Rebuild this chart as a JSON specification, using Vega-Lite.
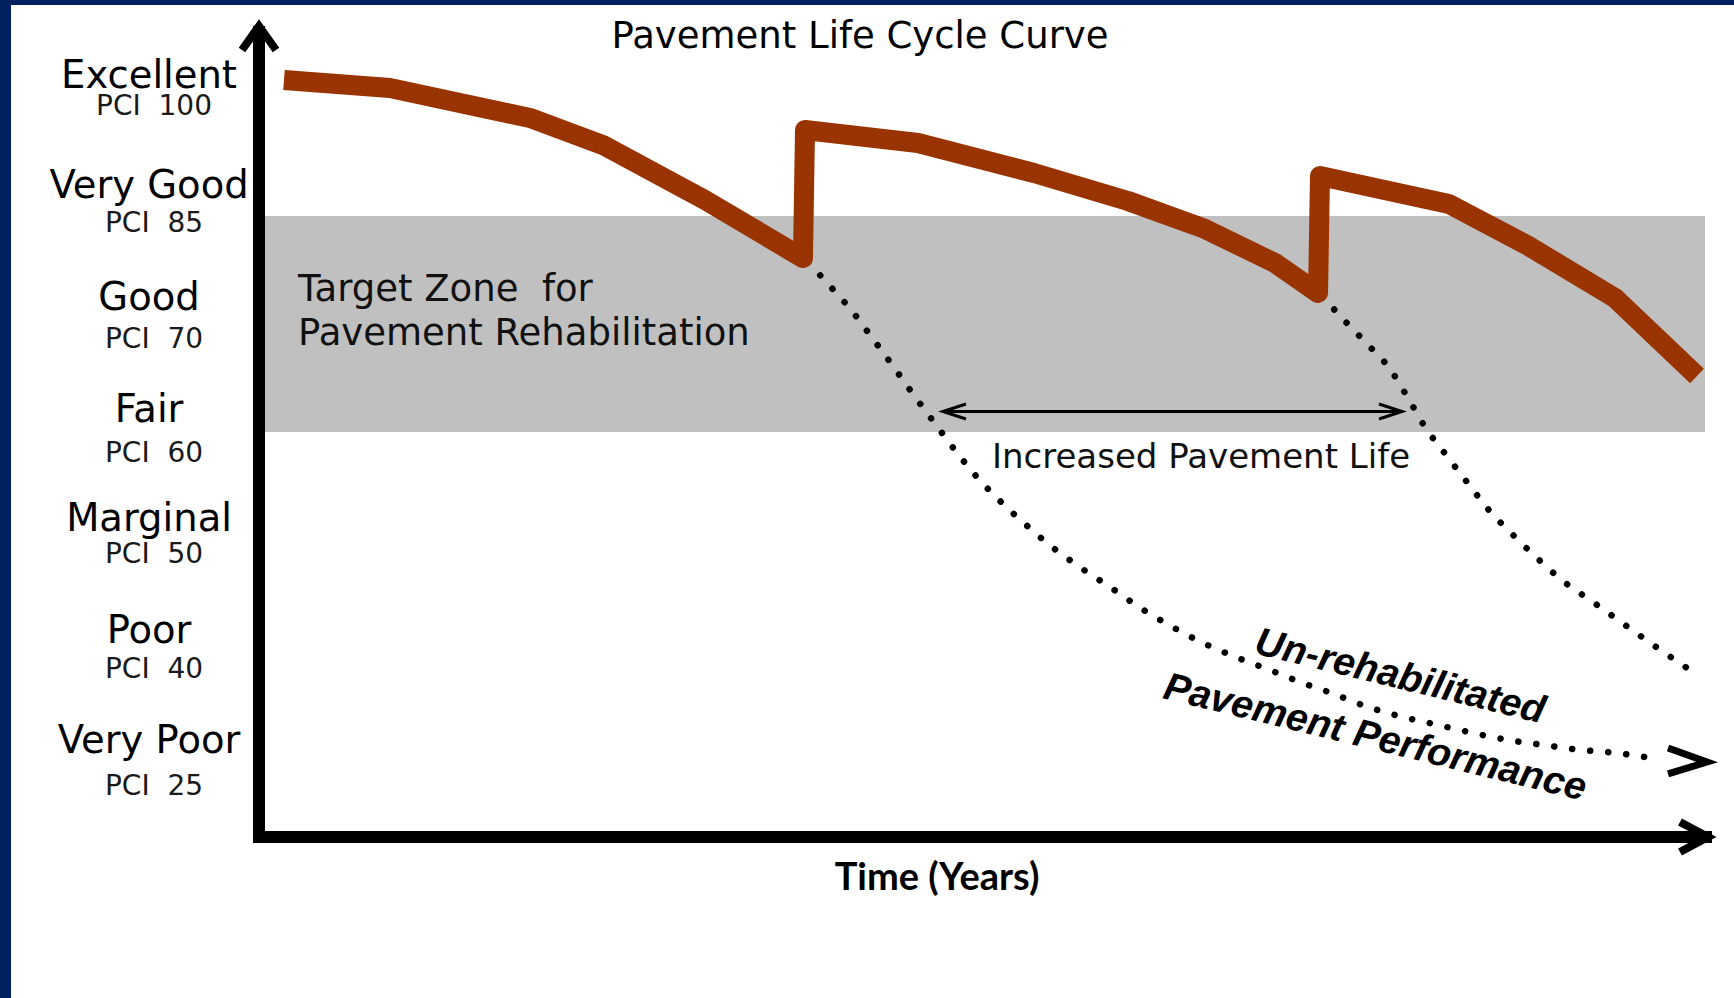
{
  "$schema": "https://vega.github.io/schema/vega-lite/v6.json",
  "width": 1723,
  "height": 993,
  "autosize": {"type": "none"},
  "padding": {"left": 11, "top": 5, "right": 0, "bottom": 0},
  "background": "#002060",
  "config": {"view": {"fill": "white", "stroke": null}},
  "encoding": {
    "x": {"field": "t", "type": "quantitative", "axis": null, "scale": {"domain": [-3.5429, 21.0714], "nice": false, "zero": false}},
    "y": {"field": "c", "type": "quantitative", "axis": null, "scale": {"domain": [-1.3243, 7.6216], "nice": false, "zero": false}}
  },
  "layer": [
    {
      "data": {"values": [{"t": 0, "t2": 20.657, "c": 3.775, "c2": 5.721}]},
      "mark": {"type": "rect", "color": "#c0c0c0"},
      "encoding": {"x2": {"field": "t2"}, "y2": {"field": "c2"}}
    },
    {
      "data": {"values": [
        {"label": "Target Zone\u00a0 for", "t": 0.557, "c": 4.955},
        {"label": "Pavement Rehabilitation", "t": 0.557, "c": 4.559}
      ]},
      "mark": {"type": "text", "font": "DejaVu Sans", "fontSize": 37, "align": "left", "baseline": "alphabetic", "color": "#111111"},
      "encoding": {"text": {"field": "label"}}
    },
    {
      "data": {"values": [
        {"s": "a", "i": 1, "t": 7.843, "c": 5.306},
        {"s": "a", "i": 2, "t": 8.143, "c": 5.099},
        {"s": "a", "i": 3, "t": 8.471, "c": 4.865},
        {"s": "a", "i": 4, "t": 8.771, "c": 4.613},
        {"s": "a", "i": 5, "t": 9.057, "c": 4.369},
        {"s": "a", "i": 6, "t": 9.343, "c": 4.117},
        {"s": "a", "i": 7, "t": 9.629, "c": 3.874},
        {"s": "a", "i": 8, "t": 9.929, "c": 3.622},
        {"s": "a", "i": 9, "t": 10.243, "c": 3.378},
        {"s": "a", "i": 10, "t": 10.586, "c": 3.153},
        {"s": "a", "i": 11, "t": 10.943, "c": 2.946},
        {"s": "a", "i": 12, "t": 11.329, "c": 2.739},
        {"s": "a", "i": 13, "t": 11.743, "c": 2.55},
        {"s": "a", "i": 14, "t": 12.157, "c": 2.378},
        {"s": "a", "i": 15, "t": 12.571, "c": 2.198},
        {"s": "a", "i": 16, "t": 13.0, "c": 2.036},
        {"s": "a", "i": 17, "t": 13.457, "c": 1.883},
        {"s": "a", "i": 18, "t": 13.914, "c": 1.757},
        {"s": "a", "i": 19, "t": 14.4, "c": 1.64},
        {"s": "a", "i": 20, "t": 14.871, "c": 1.523},
        {"s": "a", "i": 21, "t": 15.357, "c": 1.414},
        {"s": "a", "i": 22, "t": 15.843, "c": 1.297},
        {"s": "a", "i": 23, "t": 16.343, "c": 1.207},
        {"s": "a", "i": 24, "t": 16.843, "c": 1.135},
        {"s": "a", "i": 25, "t": 17.343, "c": 1.063},
        {"s": "a", "i": 26, "t": 17.843, "c": 1.0},
        {"s": "a", "i": 27, "t": 18.357, "c": 0.955},
        {"s": "a", "i": 28, "t": 18.886, "c": 0.91},
        {"s": "a", "i": 29, "t": 19.4, "c": 0.883},
        {"s": "a", "i": 30, "t": 19.9, "c": 0.838},
        {"s": "a", "i": 31, "t": 20.014, "c": 0.829},
        {"s": "b", "i": 1, "t": 15.186, "c": 5.0},
        {"s": "b", "i": 2, "t": 15.486, "c": 4.793},
        {"s": "b", "i": 3, "t": 15.829, "c": 4.568},
        {"s": "b", "i": 4, "t": 16.157, "c": 4.342},
        {"s": "b", "i": 5, "t": 16.414, "c": 4.081},
        {"s": "b", "i": 6, "t": 16.657, "c": 3.82},
        {"s": "b", "i": 7, "t": 16.957, "c": 3.568},
        {"s": "b", "i": 8, "t": 17.257, "c": 3.324},
        {"s": "b", "i": 9, "t": 17.557, "c": 3.081},
        {"s": "b", "i": 10, "t": 17.9, "c": 2.856},
        {"s": "b", "i": 11, "t": 18.257, "c": 2.64},
        {"s": "b", "i": 12, "t": 18.629, "c": 2.432},
        {"s": "b", "i": 13, "t": 19.057, "c": 2.243},
        {"s": "b", "i": 14, "t": 19.457, "c": 2.063},
        {"s": "b", "i": 15, "t": 19.857, "c": 1.883},
        {"s": "b", "i": 16, "t": 20.271, "c": 1.703},
        {"s": "b", "i": 17, "t": 20.529, "c": 1.595}
      ]},
      "mark": {"type": "line", "color": "black", "strokeWidth": 6.5, "strokeCap": "round", "strokeDash": [0.1, 18], "interpolate": "monotone"},
      "encoding": {"detail": {"field": "s"}, "order": {"field": "i", "type": "quantitative"}}
    },
    {
      "data": {"values": [
        {"i": 1, "t": 0.357, "c": 6.946},
        {"i": 2, "t": 1.871, "c": 6.874},
        {"i": 3, "t": 3.871, "c": 6.604},
        {"i": 4, "t": 4.914, "c": 6.36},
        {"i": 5, "t": 6.371, "c": 5.865},
        {"i": 6, "t": 7.771, "c": 5.342},
        {"i": 7, "t": 7.8, "c": 6.495},
        {"i": 8, "t": 9.414, "c": 6.378},
        {"i": 9, "t": 11.071, "c": 6.108},
        {"i": 10, "t": 12.414, "c": 5.856},
        {"i": 11, "t": 13.514, "c": 5.604},
        {"i": 12, "t": 14.514, "c": 5.297},
        {"i": 13, "t": 15.129, "c": 5.027},
        {"i": 14, "t": 15.157, "c": 6.081},
        {"i": 15, "t": 17.0, "c": 5.829},
        {"i": 16, "t": 18.114, "c": 5.459},
        {"i": 17, "t": 19.371, "c": 4.982},
        {"i": 18, "t": 20.543, "c": 4.279}
      ]},
      "mark": {"type": "line", "color": "#993300", "strokeWidth": 20, "strokeJoin": "round", "strokeCap": "butt"},
      "encoding": {"order": {"field": "i", "type": "quantitative"}}
    },
    {
      "data": {"values": [
        {"g": "head", "i": 1, "t": 20.129, "c": 0.928},
        {"g": "head", "i": 2, "t": 20.686, "c": 0.802},
        {"g": "head", "i": 3, "t": 20.129, "c": 0.694}
      ]},
      "mark": {"type": "line", "color": "black", "strokeWidth": 7, "strokeJoin": "miter", "strokeCap": "butt"},
      "encoding": {"detail": {"field": "g"}, "order": {"field": "i", "type": "quantitative"}}
    },
    {
      "data": {"values": [
        {"g": "shaft", "i": 1, "t": 9.771, "c": 3.959},
        {"g": "shaft", "i": 2, "t": 16.329, "c": 3.959},
        {"g": "left", "i": 1, "t": 10.1, "c": 4.027},
        {"g": "left", "i": 2, "t": 9.771, "c": 3.959},
        {"g": "left", "i": 3, "t": 10.1, "c": 3.892},
        {"g": "right", "i": 1, "t": 16.0, "c": 4.027},
        {"g": "right", "i": 2, "t": 16.329, "c": 3.959},
        {"g": "right", "i": 3, "t": 16.0, "c": 3.892}
      ]},
      "mark": {"type": "line", "color": "black", "strokeWidth": 3, "strokeJoin": "miter", "strokeCap": "butt"},
      "encoding": {"detail": {"field": "g"}, "order": {"field": "i", "type": "quantitative"}}
    },
    {
      "data": {"values": [
        {"i": 1, "t": 0, "c": 7.432},
        {"i": 2, "t": 0, "c": 0.126},
        {"i": 3, "t": 20.757, "c": 0.126}
      ]},
      "mark": {"type": "line", "color": "black", "strokeWidth": 12, "strokeJoin": "miter", "strokeCap": "butt"},
      "encoding": {"order": {"field": "i", "type": "quantitative"}}
    },
    {
      "data": {"values": [
        {"g": "y", "i": 1, "t": -0.243, "c": 7.216},
        {"g": "y", "i": 2, "t": 0, "c": 7.432},
        {"g": "y", "i": 3, "t": 0.243, "c": 7.216},
        {"g": "x", "i": 1, "t": 20.3, "c": 0.261},
        {"g": "x", "i": 2, "t": 20.7, "c": 0.126},
        {"g": "x", "i": 3, "t": 20.3, "c": -0.009}
      ]},
      "mark": {"type": "line", "color": "black", "strokeWidth": 8, "strokeJoin": "miter", "strokeCap": "butt"},
      "encoding": {"detail": {"field": "g"}, "order": {"field": "i", "type": "quantitative"}}
    },
    {
      "data": {"values": [
        {"label": "Excellent", "t": -1.571, "c": 6.874},
        {"label": "Very Good", "t": -1.571, "c": 5.883},
        {"label": "Good", "t": -1.571, "c": 4.874},
        {"label": "Fair", "t": -1.571, "c": 3.865},
        {"label": "Marginal", "t": -1.571, "c": 2.883},
        {"label": "Poor", "t": -1.571, "c": 1.874},
        {"label": "Very Poor", "t": -1.571, "c": 0.883}
      ]},
      "mark": {"type": "text", "font": "DejaVu Sans", "fontSize": 38.5, "align": "center", "baseline": "alphabetic", "color": "#000000"},
      "encoding": {"text": {"field": "label"}}
    },
    {
      "data": {"values": [
        {"label": "PCI\u00a0 100", "t": -1.5, "c": 6.631},
        {"label": "PCI\u00a0 85", "t": -1.5, "c": 5.577},
        {"label": "PCI\u00a0 70", "t": -1.5, "c": 4.532},
        {"label": "PCI\u00a0 60", "t": -1.5, "c": 3.505},
        {"label": "PCI\u00a0 50", "t": -1.5, "c": 2.595},
        {"label": "PCI\u00a0 40", "t": -1.5, "c": 1.559},
        {"label": "PCI\u00a0 25", "t": -1.5, "c": 0.505}
      ]},
      "mark": {"type": "text", "font": "DejaVu Sans", "fontSize": 28, "align": "center", "baseline": "alphabetic", "color": "#1a1a1a"},
      "encoding": {"text": {"field": "label"}}
    },
    {
      "data": {"values": [{"label": "Pavement Life Cycle Curve", "t": 8.586, "c": 7.234}]},
      "mark": {"type": "text", "font": "DejaVu Sans", "fontSize": 37, "align": "center", "baseline": "alphabetic", "color": "#000000"},
      "encoding": {"text": {"field": "label"}}
    },
    {
      "data": {"values": [{"label": "Increased Pavement Life", "t": 13.457, "c": 3.45}]},
      "mark": {"type": "text", "font": "DejaVu Sans", "fontSize": 34, "align": "center", "baseline": "alphabetic", "color": "#111111"},
      "encoding": {"text": {"field": "label"}}
    },
    {
      "data": {"values": [{"label": "Time (Years)", "t": 9.686, "c": -0.351}]},
      "mark": {"type": "text", "font": "Lato", "fontWeight": "bold", "fontSize": 38, "align": "center", "baseline": "alphabetic", "color": "#000000"},
      "encoding": {"text": {"field": "label"}}
    },
    {
      "data": {"values": [
        {"label": "Un-rehabilitated", "t": 16.261, "c": 1.467},
        {"label": "Pavement Performance", "t": 15.904, "c": 0.916}
      ]},
      "mark": {"type": "text", "font": "Liberation Sans", "fontWeight": "bold", "fontStyle": "italic", "fontSize": 39, "angle": 13.7, "align": "center", "baseline": "alphabetic", "color": "#000000"},
      "encoding": {"text": {"field": "label"}}
    }
  ]
}
